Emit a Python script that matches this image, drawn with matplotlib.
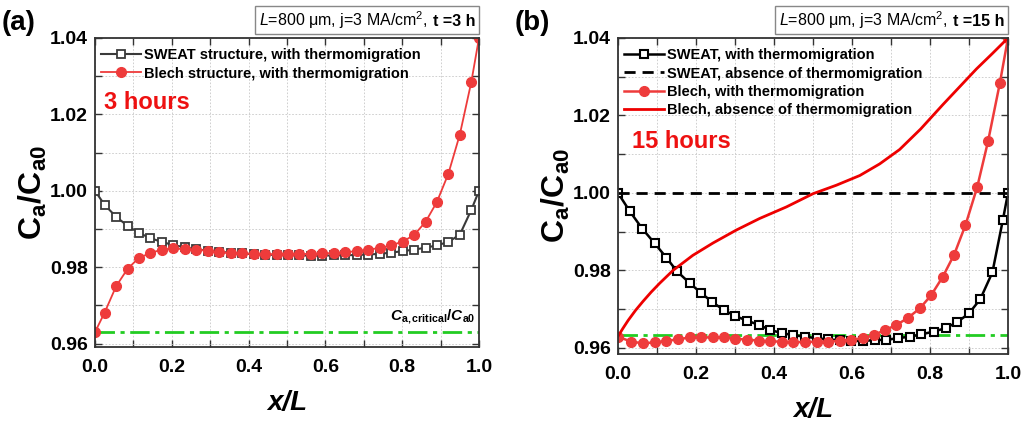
import matplotlib
matplotlib.use("Agg")
import matplotlib.pyplot as plt
from matplotlib.ticker import MultipleLocator, FormatStrFormatter
from matplotlib.offsetbox import TextArea, HPacker, AnchoredOffsetbox

plt.rcParams['font.family'] = ['Liberation Sans', 'DejaVu Sans']
plt.rcParams['mathtext.fontset'] = 'custom'
plt.rcParams['mathtext.rm'] = 'Liberation Sans'
plt.rcParams['mathtext.it'] = 'Liberation Sans:italic'
plt.rcParams['mathtext.bf'] = 'Liberation Sans:bold'
plt.rcParams['mathtext.bfit'] = 'Liberation Sans:bold:italic'

# ---------------- panel (a): t = 3 h ----------------
x_a = [0.000, 0.025, 0.055, 0.085, 0.114, 0.144, 0.174, 0.204, 0.234, 0.264,
       0.294, 0.323, 0.353, 0.383, 0.413, 0.443, 0.473, 0.502, 0.532, 0.562,
       0.592, 0.622, 0.652, 0.681, 0.711, 0.741, 0.771, 0.801, 0.831, 0.861,
       0.890, 0.920, 0.950, 0.980, 1.000]
sweat_a = [1.0000, 0.9963, 0.9932, 0.9908, 0.9890, 0.9876, 0.9866, 0.9858, 0.9852, 0.9847,
           0.9843, 0.9840, 0.9838, 0.9836, 0.9834, 0.9833, 0.9832, 0.9831, 0.9831, 0.9830,
           0.9830, 0.9831, 0.9831, 0.9832, 0.9833, 0.9835, 0.9838, 0.9842, 0.9846, 0.9851,
           0.9857, 0.9866, 0.9885, 0.9950, 1.0000]
blech_a = [0.9630, 0.9681, 0.9750, 0.9796, 0.9824, 0.9837, 0.9846, 0.9849, 0.9847, 0.9846,
           0.9843, 0.9839, 0.9837, 0.9836, 0.9835, 0.9834, 0.9834, 0.9834, 0.9834, 0.9835,
           0.9836, 0.9837, 0.9839, 0.9842, 0.9846, 0.9850, 0.9857, 0.9867, 0.9884, 0.9919,
           0.9970, 1.0044, 1.0147, 1.0285, 1.0400]

# ---------------- panel (b): t = 15 h ----------------
x_b_sweat = [0.000, 0.030, 0.062, 0.094, 0.124, 0.151, 0.184, 0.214, 0.242, 0.271,
             0.301, 0.332, 0.362, 0.391, 0.421, 0.449, 0.479, 0.509, 0.538, 0.568,
             0.598, 0.628, 0.658, 0.688, 0.718, 0.748, 0.778, 0.809, 0.840, 0.869,
             0.900, 0.929, 0.960, 0.987, 1.000]
sweat_b = [1.0000, 0.9953, 0.9908, 0.9870, 0.9833, 0.9798, 0.9767, 0.9741, 0.9718, 0.9698,
           0.9682, 0.9670, 0.9659, 0.9646, 0.9638, 0.9633, 0.9629, 0.9625, 0.9622, 0.9620,
           0.9618, 0.9618, 0.9620, 0.9621, 0.9625, 0.9629, 0.9635, 0.9642, 0.9651, 0.9666,
           0.9689, 0.9726, 0.9795, 0.9931, 1.0000]
x_b_blech = [0.000, 0.034, 0.064, 0.094, 0.124, 0.154, 0.184, 0.214, 0.244, 0.272,
             0.301, 0.331, 0.361, 0.391, 0.421, 0.449, 0.479, 0.509, 0.538, 0.568,
             0.598, 0.627, 0.656, 0.684, 0.714, 0.744, 0.774, 0.803, 0.833, 0.862,
             0.891, 0.921, 0.949, 0.979, 1.000]
blech_b = [0.9629, 0.9616, 0.9612, 0.9614, 0.9618, 0.9622, 0.9627, 0.9627, 0.9627, 0.9627,
           0.9624, 0.9621, 0.9619, 0.9617, 0.9616, 0.9615, 0.9615, 0.9616, 0.9616, 0.9618,
           0.9621, 0.9625, 0.9633, 0.9646, 0.9659, 0.9678, 0.9702, 0.9736, 0.9784, 0.9841,
           0.9917, 1.0015, 1.0134, 1.0283, 1.0400]
x_b_noTM = [0.000, 0.013, 0.026, 0.045, 0.064, 0.085, 0.107, 0.141, 0.192, 0.244,
            0.303, 0.363, 0.432, 0.500, 0.560, 0.620, 0.671, 0.722, 0.776, 0.833,
            0.876, 0.919, 0.960, 1.000]
blech_b_noTM = [0.9630, 0.9651, 0.9671, 0.9697, 0.9720, 0.9744, 0.9767, 0.9800, 0.9839, 0.9871,
                0.9904, 0.9934, 0.9964, 0.9998, 1.0020, 1.0045, 1.0075, 1.0112, 1.0165, 1.0228,
                1.0274, 1.0320, 1.0360, 1.0400]
sweat_b_noTM = 1.0

c_critical = 0.963

RED = '#EE3B3B'
GREEN = '#22CC22'

fig = plt.figure(figsize=(10.27, 4.24), dpi=100)
ax_a = fig.add_axes([95/1027, 1-347/424, 384/1027, 309/424])
ax_b = fig.add_axes([618/1027, 1-353.7/424, 390/1027, 315.7/424])


def style_axes(ax, ymin):
    ax.set_xlim(0, 1.0)
    ax.set_ylim(ymin, 1.04)
    ax.xaxis.set_major_locator(MultipleLocator(0.2))
    ax.xaxis.set_minor_locator(MultipleLocator(0.1))
    ax.yaxis.set_major_locator(MultipleLocator(0.02))
    ax.yaxis.set_minor_locator(MultipleLocator(0.01))
    ax.xaxis.set_major_formatter(FormatStrFormatter('%.1f'))
    ax.yaxis.set_major_formatter(FormatStrFormatter('%.2f'))
    ax.tick_params(which='both', direction='in', top=True, right=True,
                   length=5, width=1.0, color='#333333')
    ax.tick_params(which='major', labelsize=14)
    ax.tick_params(axis='x', which='major', pad=9)
    ax.tick_params(axis='y', which='major', pad=5)
    for lab in ax.get_xticklabels() + ax.get_yticklabels():
        lab.set_fontweight('bold')
    ax.grid(True, which='both', linestyle=(0, (2, 2)), color='#c8c8c8', linewidth=0.6)
    ax.set_axisbelow(True)
    for s in ax.spines.values():
        s.set_color('#333333')
        s.set_linewidth(1.3)
    ax.set_xlabel('x/L', fontsize=20, fontweight='bold', style='italic', labelpad=10)
    ax.set_ylabel(r'$\mathbf{C}_{\mathbf{a}}\mathbf{/C}_{\mathbf{a0}}$', fontsize=23, labelpad=1)


def info_box(ax, hours):
    plain = TextArea(r'$\mathit{L}$=800 μm, j=3 MA/cm$^2$,', textprops=dict(size=11.5))
    bold = TextArea('t =' + hours + ' h', textprops=dict(size=11.5, weight='bold'))
    row = HPacker(children=[plain, bold], align='baseline', pad=0, sep=4)
    box = AnchoredOffsetbox(loc='lower right', child=row, pad=0.25, borderpad=0,
                            bbox_to_anchor=(1.0, 1.012), bbox_transform=ax.transAxes,
                            frameon=True)
    box.patch.set_edgecolor('#888888')
    box.patch.set_linewidth(1)
    box.patch.set_boxstyle('square', pad=0)
    ax.add_artist(box)


legend_kw = dict(loc='upper left', bbox_to_anchor=(-0.01, 1.0), frameon=False,
                 prop={'weight': 'bold', 'size': 10.5}, handlelength=2.7,
                 handletextpad=0.2, labelspacing=0.3, borderaxespad=0.3)

# ---- panel (a) ----
style_axes(ax_a, 0.9591)
ax_a.axhline(c_critical, color=GREEN, lw=2, dashes=(7, 2, 1.5, 2))
ax_a.plot(x_a, sweat_a, color='#3a3a3a', lw=1.5, marker='s', ms=5.5,
          mfc='white', mec='#3a3a3a', mew=1.3,
          label='SWEAT structure, with thermomigration')
ax_a.plot(x_a, blech_a, color=RED, lw=1.3, marker='o', ms=7,
          mfc=RED, mec=RED, label='Blech structure, with thermomigration')
ax_a.legend(**legend_kw)
ax_a.text(0.023, 1.0231, '3 hours', color='#EE1111', fontsize=17,
          fontweight='bold', va='center', ha='left')
ax_a.text(0.99, 0.9646, r'$\mathbfit{C}_{\mathbf{a,critical}}\mathbf{/}\mathbfit{C}_{\mathbf{a0}}$',
          fontsize=11, ha='right', va='bottom')
info_box(ax_a, '3')
fig.text(2/1027, 1-23/424, '(a)', fontsize=20, fontweight='bold', va='center', ha='left')

# ---- panel (b) ----
style_axes(ax_b, 0.9585)
ax_b.axhline(c_critical + 0.0003, color=GREEN, lw=2, dashes=(7, 2, 1.5, 2))
ax_b.plot(x_b_sweat, sweat_b, color='black', lw=1.8, marker='s', ms=6,
          mfc='white', mec='black', mew=1.5, label='SWEAT, with thermomigration')
ax_b.axhline(sweat_b_noTM, color='black', lw=2, dashes=(4, 2.5),
             label='SWEAT, absence of thermomigration')
ax_b.plot(x_b_blech, blech_b, color=RED, lw=1.8, marker='o', ms=7,
          mfc=RED, mec=RED, label='Blech, with thermomigration')
ax_b.plot(x_b_noTM, blech_b_noTM, color='#EE0000', lw=2,
          label='Blech, absence of thermomigration')
ax_b.legend(**legend_kw)
ax_b.text(0.036, 1.0132, '15 hours', color='#EE1111', fontsize=17,
          fontweight='bold', va='center', ha='left')
info_box(ax_b, '15')
fig.text(515/1027, 1-23/424, '(b)', fontsize=20, fontweight='bold', va='center', ha='left')

fig.savefig('out.png', dpi=100)
